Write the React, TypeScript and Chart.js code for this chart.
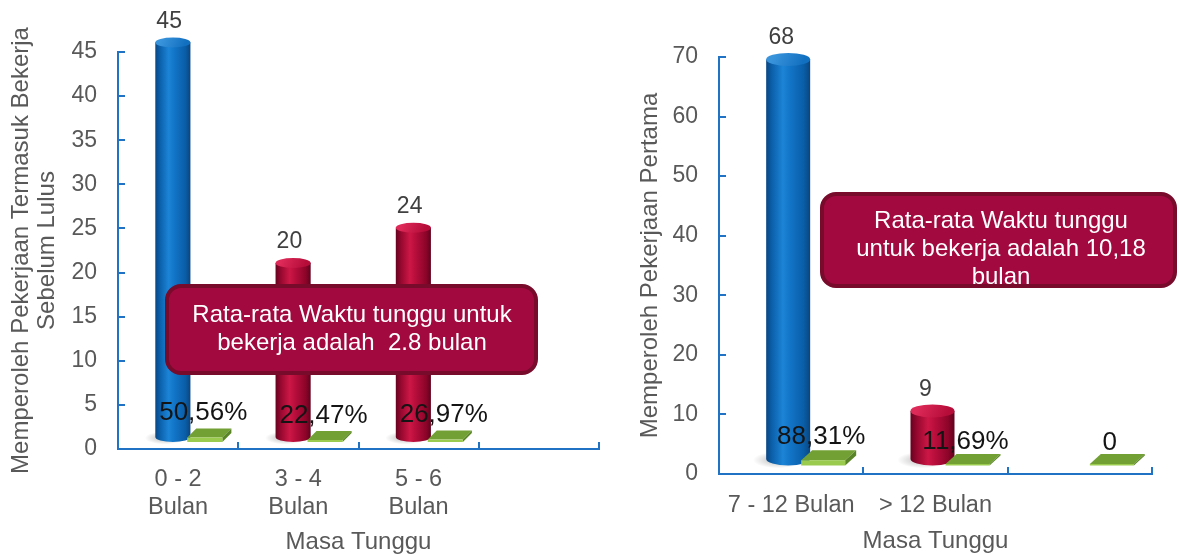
import { useEffect, useRef } from "react";
import { Chart, registerables } from "chart.js";

Chart.register(...registerables);

// ---------------- data ----------------
const leftCategories: (string | string[])[] = [["0 - 2", "Bulan"], ["3 - 4", "Bulan"], ["5 - 6", "Bulan"], ""];
const leftCounts: (number | null)[] = [45, 20, 24, null];
const leftShares: (number | null)[] = [0.5056, 0.2247, 0.2697, null];
const leftColors = ["blue", "red", "red", "red"];
const leftYTitle = ["Memperoleh Pekerjaan Termasuk Bekerja", "Sebelum Lulus"];
const leftNote = ["Rata-rata Waktu tunggu untuk", "bekerja adalah  2.8 bulan"];
const leftYMax = 45;
const leftYStep = 5;

const rightCategories: string[] = ["7 - 12 Bulan", "> 12 Bulan", ""];
const rightCounts: (number | null)[] = [68, 9, null];
const rightShares: (number | null)[] = [0.8831, 0.1169, 0];
const rightColors = ["blue", "red", "red"];
const rightYTitle = "Memperoleh Pekerjaan Pertama";
const rightNote = ["Rata-rata Waktu tunggu", "untuk bekerja adalah 10,18", "bulan"];
const rightYMax = 70;
const rightYStep = 10;

const xTitle = "Masa Tunggu";

// ---------------- style ----------------
const FONT = "'Liberation Sans', Arial, sans-serif";
const AXIS = "#1f72c4";
const GRAY = "#595959";
const VALUE_GRAY = "#404040";

const PAL: Record<string, { body: [number, string][]; top: [string, string] }> = {
  blue: {
    body: [
      [0, "#0a4682"],
      [0.12, "#0a5ea8"],
      [0.38, "#1c84d6"],
      [0.55, "#1274c6"],
      [0.85, "#0a5ea8"],
      [1, "#0a4580"],
    ],
    top: ["#3a94dc", "#1270c0"],
  },
  red: {
    body: [
      [0, "#66021f"],
      [0.14, "#94072e"],
      [0.4, "#cc1746"],
      [0.56, "#b70e3c"],
      [0.86, "#8c0429"],
      [1, "#60021d"],
    ],
    top: ["#de2a58", "#b50c3a"],
  },
};

const fmtShare = (v: number) => (v === 0 ? "0" : (v * 100).toFixed(2).replace(".", ",") + "%");

function drawCylinder(ctx: CanvasRenderingContext2D, cx: number, ty: number, by: number, rx: number, ry: number, pal: any) {
  // soft shadow
  ctx.save();
  ctx.translate(cx - rx * 0.45, by + 1);
  ctx.scale(1, (ry * 1.1) / rx);
  const sg = ctx.createRadialGradient(0, 0, 0, 0, 0, rx * 1.15);
  sg.addColorStop(0, "rgba(0,0,0,0.28)");
  sg.addColorStop(1, "rgba(0,0,0,0)");
  ctx.fillStyle = sg;
  ctx.beginPath();
  ctx.arc(0, 0, rx * 1.15, 0, Math.PI * 2);
  ctx.fill();
  ctx.restore();

  const g = ctx.createLinearGradient(cx - rx, 0, cx + rx, 0);
  pal.body.forEach(([o, c]: [number, string]) => g.addColorStop(o, c));
  ctx.beginPath();
  ctx.moveTo(cx - rx, ty);
  ctx.lineTo(cx - rx, by);
  ctx.ellipse(cx, by, rx, ry, 0, Math.PI, 0, true);
  ctx.lineTo(cx + rx, ty);
  ctx.closePath();
  ctx.fillStyle = g;
  ctx.fill();

  const tg = ctx.createLinearGradient(cx - rx * 0.6, ty - ry, cx + rx * 0.6, ty + ry);
  tg.addColorStop(0, pal.top[0]);
  tg.addColorStop(1, pal.top[1]);
  ctx.beginPath();
  ctx.ellipse(cx, ty, rx, ry, 0, 0, Math.PI * 2);
  ctx.fillStyle = tg;
  ctx.fill();
}

function drawPlate(ctx: CanvasRenderingContext2D, cx: number, w: number, top: number, bottom: number, depth: [number, number]) {
  const [ddx, ddy] = depth;
  const l = cx - w / 2;
  const r = cx + w / 2;
  const h = Math.max(bottom - top, 0);
  const t = bottom - Math.max(h, 1.5);
  // top face
  ctx.beginPath();
  ctx.moveTo(l, t);
  ctx.lineTo(r, t);
  ctx.lineTo(r + ddx, t + ddy);
  ctx.lineTo(l + ddx, t + ddy);
  ctx.closePath();
  ctx.fillStyle = "#72a034";
  ctx.fill();
  // right side
  ctx.beginPath();
  ctx.moveTo(r, t);
  ctx.lineTo(r + ddx, t + ddy);
  ctx.lineTo(r + ddx, bottom + ddy);
  ctx.lineTo(r, bottom);
  ctx.closePath();
  ctx.fillStyle = "#5a8526";
  ctx.fill();
  // front face
  ctx.fillStyle = "#9bcb4e";
  ctx.fillRect(l, t, w, bottom - t);
}

type Cfg = {
  dx: number;
  dyTop: number;
  dyBase: number;
  ry: number;
  plateDy: number;
  depth: [number, number];
  labelDx: number;
  pctDx: number;
  colors: string[];
  note: { x: number; y: number; w: number; h: number; lines: string[]; cx: number; baselines: number[] };
};

function make3D(cfg: Cfg) {
  return {
    id: "cyl3d",
    afterDatasetsDraw(chart: any) {
      const ctx = chart.ctx as CanvasRenderingContext2D;
      const m0 = chart.getDatasetMeta(0);
      const m1 = chart.getDatasetMeta(1);
      const d0 = chart.data.datasets[0].data;
      const d1 = chart.data.datasets[1].data;
      ctx.save();
      m0.data.forEach((el: any, i: number) => {
        if (d0[i] == null) return;
        const cx = el.x + cfg.dx;
        const rx = el.width / 2;
        drawCylinder(ctx, cx, el.y + cfg.dyTop, el.base + cfg.dyBase, rx, cfg.ry, PAL[cfg.colors[i]]);
      });
      m1.data.forEach((el: any, i: number) => {
        if (d1[i] == null) return;
        drawPlate(ctx, el.x + cfg.dx, el.width, el.y + cfg.plateDy, el.base + cfg.plateDy, cfg.depth);
      });
      ctx.restore();
    },
    afterDraw(chart: any) {
      const ctx = chart.ctx as CanvasRenderingContext2D;
      const ca = chart.chartArea;
      ctx.save();
      // inward tick marks
      ctx.strokeStyle = AXIS;
      ctx.lineWidth = 2;
      ctx.beginPath();
      const ys = chart.scales.y;
      ys.ticks.forEach((t: any) => {
        const py = Math.round(ys.getPixelForValue(t.value));
        ctx.moveTo(ca.left, py);
        ctx.lineTo(ca.left + 7, py);
      });
      const n = chart.data.labels.length;
      for (let i = 1; i <= n; i++) {
        const px = Math.round(ca.left + (ca.width * i) / n);
        ctx.moveTo(px, ca.bottom);
        ctx.lineTo(px, ca.bottom - 7);
      }
      ctx.stroke();

      // annotation box
      const nb = cfg.note;
      ctx.beginPath();
      (ctx as any).roundRect(nb.x, nb.y, nb.w, nb.h, 14);
      ctx.fillStyle = "#a2093f";
      ctx.fill();
      ctx.lineWidth = 4;
      ctx.strokeStyle = "#780a2c";
      ctx.stroke();
      ctx.fillStyle = "#ffffff";
      ctx.font = `24px ${FONT}`;
      ctx.textAlign = "center";
      ctx.textBaseline = "alphabetic";
      nb.lines.forEach((ln, i) => ctx.fillText(ln, nb.cx, nb.baselines[i]));

      // value labels
      const xs = chart.scales.x;
      const d0 = chart.data.datasets[0].data;
      const d1 = chart.data.datasets[1].data;
      ctx.font = `23px ${FONT}`;
      ctx.fillStyle = VALUE_GRAY;
      chart.getDatasetMeta(0).data.forEach((el: any, i: number) => {
        if (d0[i] == null) return;
        ctx.fillText(String(d0[i]), xs.getPixelForValue(i) + cfg.labelDx, el.y - 24.5);
      });
      ctx.font = `26px ${FONT}`;
      ctx.fillStyle = "#141414";
      chart.getDatasetMeta(1).data.forEach((el: any, i: number) => {
        if (d1[i] == null) return;
        ctx.fillText(fmtShare(d1[i]), el.x + cfg.dx + cfg.pctDx, el.y - 24.5);
      });
      ctx.restore();
    },
  };
}

function buildConfig(opts: {
  labels: any[];
  counts: (number | null)[];
  shares: (number | null)[];
  yMax: number;
  yStep: number;
  yTitle: string | string[];
  yTitlePad: number;
  yWidth: number;
  xHeight: number;
  xTickPad: number;
  xTitlePad: number;
  padTop: number;
  padRight: number;
  catPct: number;
  barPct: number;
  cfg: Cfg;
}): any {
  const tickFont = { family: FONT, size: 23, lineHeight: 1.17 };
  const titleFont = { family: FONT, size: 24, lineHeight: 1.1 };
  return {
    type: "bar",
    data: {
      labels: opts.labels,
      datasets: [
        {
          data: opts.counts,
          backgroundColor: "rgba(0,0,0,0)",
          borderWidth: 0,
          categoryPercentage: opts.catPct,
          barPercentage: opts.barPct,
        },
        {
          data: opts.shares,
          backgroundColor: "rgba(0,0,0,0)",
          borderWidth: 0,
          categoryPercentage: opts.catPct,
          barPercentage: opts.barPct,
        },
      ],
    },
    options: {
      responsive: false,
      animation: false,
      events: [],
      layout: { padding: { top: opts.padTop, right: opts.padRight, left: 0, bottom: 0 } },
      plugins: { legend: { display: false }, tooltip: { enabled: false } },
      scales: {
        x: {
          grid: { display: false, drawTicks: false },
          border: { display: true, color: AXIS, width: 2 },
          ticks: {
            font: { ...tickFont, size: 23.5 },
            color: GRAY,
            padding: opts.xTickPad,
            maxRotation: 0,
            minRotation: 0,
            autoSkip: false,
          },
          title: {
            display: true,
            text: xTitle,
            font: titleFont,
            color: GRAY,
            padding: { top: 0, bottom: opts.xTitlePad },
          },
          afterFit: (s: any) => {
            s.height = opts.xHeight;
          },
        },
        y: {
          min: 0,
          max: opts.yMax,
          grid: { display: false, drawTicks: false },
          border: { display: true, color: AXIS, width: 2 },
          ticks: { stepSize: opts.yStep, font: tickFont, color: GRAY, padding: 21 },
          title: {
            display: true,
            text: opts.yTitle,
            font: titleFont,
            color: GRAY,
            padding: { top: opts.yTitlePad, bottom: 0 },
          },
          afterFit: (s: any) => {
            s.width = opts.yWidth;
          },
        },
      },
    },
    plugins: [make3D(opts.cfg)],
  };
}

function ChartCanvas({ config, width, height }: { config: () => any; width: number; height: number }) {
  const ref = useRef<HTMLCanvasElement | null>(null);
  useEffect(() => {
    if (!ref.current) return;
    const chart = new Chart(ref.current, config());
    return () => chart.destroy();
  }, []);
  return <canvas ref={ref} width={width} height={height} style={{ display: "block", width, height }} />;
}

export default function App() {
  useEffect(() => {
    document.body.style.margin = "0";
    document.body.style.background = "#ffffff";
  }, []);

  const leftConfig = () =>
    buildConfig({
      labels: leftCategories,
      counts: leftCounts,
      shares: leftShares,
      yMax: leftYMax,
      yStep: leftYStep,
      yTitle: leftYTitle,
      yTitlePad: 8,
      yWidth: 118,
      xHeight: 105,
      xTickPad: 17,
      xTitlePad: -2,
      padTop: 52,
      padRight: 21,
      catPct: 0.531,
      barPct: 1.1,
      cfg: {
        dx: 10.7,
        dyTop: -9.5,
        dyBase: -12,
        ry: 5,
        plateDy: -7,
        depth: [9, -9],
        labelDx: -9,
        pctDx: -1.5,
        colors: leftColors,
        note: { x: 167, y: 286, w: 369, h: 87, lines: leftNote, cx: 352, baselines: [322, 350] },
      },
    });

  const rightConfig = () =>
    buildConfig({
      labels: rightCategories,
      counts: rightCounts,
      shares: rightShares,
      yMax: rightYMax,
      yStep: rightYStep,
      yTitle: rightYTitle,
      yTitlePad: 17,
      yWidth: 99,
      xHeight: 80,
      xTickPad: 18,
      xTitlePad: -1,
      padTop: 57,
      padRight: 27,
      catPct: 0.485,
      barPct: 1.257,
      cfg: {
        dx: 14.5,
        dyTop: -9.5,
        dyBase: -15,
        ry: 6.5,
        plateDy: -8.5,
        depth: [11, -10],
        labelDx: -10,
        pctDx: -2,
        colors: rightColors,
        note: { x: 202, y: 194, w: 353, h: 92, lines: rightNote, cx: 381, baselines: [228, 256, 284] },
      },
    });

  return (
    <div style={{ position: "absolute", left: 0, top: 0, width: 1179, height: 554, background: "#fff" }}>
      <div style={{ position: "absolute", left: 0, top: 0 }}>
        <ChartCanvas config={leftConfig} width={620} height={554} />
      </div>
      <div style={{ position: "absolute", left: 620, top: 0 }}>
        <ChartCanvas config={rightConfig} width={559} height={554} />
      </div>
    </div>
  );
}
